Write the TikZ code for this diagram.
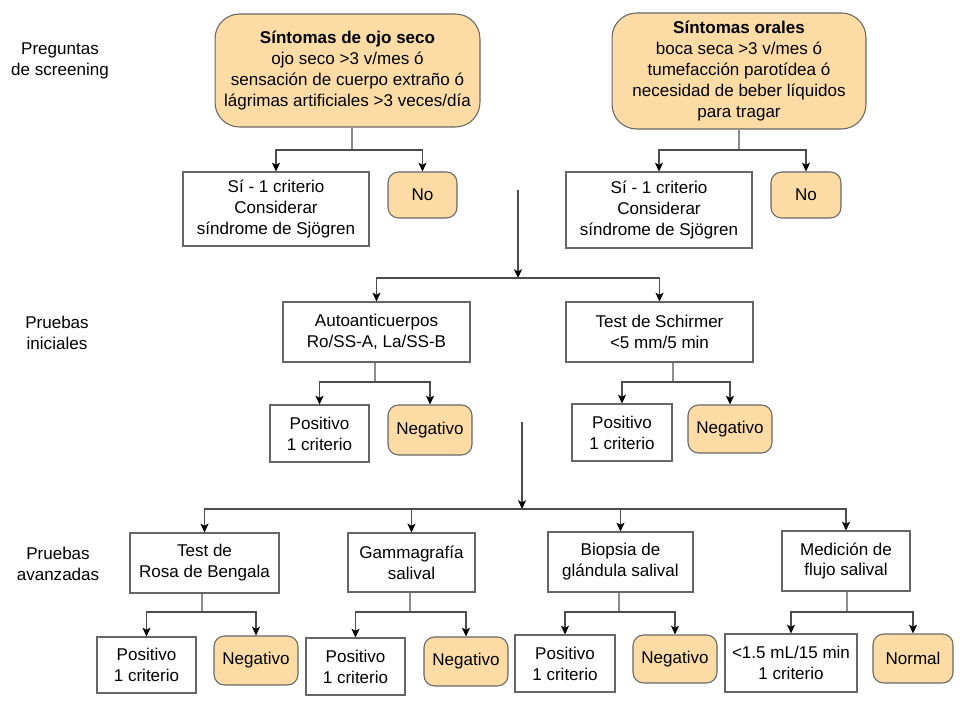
\documentclass[tikz,border=0pt]{standalone}
\usepackage{fontspec}
\setmainfont{Liberation Sans}
\usepackage{tikz}
\usetikzlibrary{arrows.meta}
\definecolor{melon}{HTML}{FCDCA4}

\begin{document}
\begin{tikzpicture}[>={Stealth[length=5pt,width=4.6pt,inset=1.2pt,black]},x=0.02cm,y=-0.02cm,line width=0.6pt]
\tikzstyle{every node}=[align=center,inner sep=1pt]
\tikzstyle{caja}=[draw=black!60,fill=white]
\tikzstyle{naranja}=[draw=black!60,fill=melon,rounded corners=6pt]
\tikzstyle{linea}=[draw=black!70]
\tikzstyle{tallo}=[draw=black!45]
\tikzset{font=\fontsize{9.7pt}{11.9pt}\selectfont}

\useasboundingbox (0,0) rectangle (960,709);

        % etiquetas de la izquierda
        \node (et1) at (60,61)  {Preguntas\\de screening};
        \node (et2) at (57,333) {Pruebas\\iniciales};
        \node (et3) at (58,564) {Pruebas\\avanzadas};

        % preguntas de screening
        \node[naranja,rounded corners=14pt,minimum width=5.3cm,minimum height=2.26cm]   (ojo)  at (347.5,70.5) {\textbf{Síntomas de ojo seco}\\ojo seco >3 v/mes ó\\sensación de cuerpo extraño ó\\lágrimas artificiales >3 veces/día};
        \node[naranja,rounded corners=14pt,minimum width=5.08cm,minimum height=2.32cm]  (oral) at (739,71)     {\textbf{Síntomas orales}\\boca seca >3 v/mes ó\\tumefacción parotídea ó\\necesidad de beber líquidos\\para tragar};

        \node[caja,minimum width=3.72cm,minimum height=1.48cm]     (si1) at (276,209)   {Sí - 1 criterio\\Considerar\\síndrome de Sjögren};
        \node[naranja,minimum width=1.38cm,minimum height=0.92cm]  (no1) at (422.5,195) {No};
        \node[caja,minimum width=3.72cm,minimum height=1.52cm]     (si2) at (659,210)   {Sí - 1 criterio\\Considerar\\síndrome de Sjögren};
        \node[naranja,minimum width=1.4cm,minimum height=0.92cm]   (no2) at (806,195)   {No};

        % pruebas iniciales
        \node[caja,minimum width=3.74cm,minimum height=1.2cm]      (auto)  at (376.5,332) {Autoanticuerpos\\Ro/SS-A, La/SS-B};
        \node[caja,minimum width=3.74cm,minimum height=1.2cm]      (schir) at (659.5,332) {Test de Schirmer\\<5 mm/5 min};

        \node[caja,minimum width=1.98cm,minimum height=1.14cm]     (pos1) at (319.5,433.5) {Positivo\\1 criterio};
        \node[naranja,minimum width=1.68cm,minimum height=1.0cm]   (neg1) at (430,430)     {Negativo};
        \node[caja,minimum width=2.0cm,minimum height=1.14cm]      (pos2) at (622,432.5)   {Positivo\\1 criterio};
        \node[naranja,minimum width=1.68cm,minimum height=0.96cm]  (neg2) at (730,429)     {Negativo};

        % pruebas avanzadas
        \node[caja,minimum width=2.98cm,minimum height=1.2cm]      (rosa)  at (204.5,563) {Test de\\Rosa de Bengala};
        \node[caja,minimum width=2.54cm,minimum height=1.18cm]     (gamma) at (411.5,562.5) {Gammagrafía\\salival};
        \node[caja,minimum width=2.9cm,minimum height=1.2cm]       (biop)  at (620.5,562) {Biopsia de\\glándula salival};
        \node[caja,minimum width=2.56cm,minimum height=1.2cm]      (flujo) at (846,561)   {Medición de\\flujo salival};

        \node[caja,minimum width=1.98cm,minimum height=1.12cm]     (pos3)   at (146.5,665)   {Positivo\\1 criterio};
        \node[naranja,minimum width=1.68cm,minimum height=0.98cm]  (neg3)   at (256,660.5)   {Negativo};
        \node[caja,minimum width=1.98cm,minimum height=1.14cm]     (pos4)   at (355.5,666.5) {Positivo\\1 criterio};
        \node[naranja,minimum width=1.68cm,minimum height=0.98cm]  (neg4)   at (466,661.5)   {Negativo};
        \node[caja,minimum width=2.0cm,minimum height=1.14cm]      (pos5)   at (565,663.5)   {Positivo\\1 criterio};
        \node[naranja,minimum width=1.68cm,minimum height=0.96cm]  (neg5)   at (675,659)     {Negativo};
        \node[caja,minimum width=2.64cm,minimum height=1.16cm]     (flow)   at (791,663)     {<1.5 mL/15 min\\1 criterio};
        \node[naranja,minimum width=1.6cm,minimum height=0.98cm]   (normal) at (913,658.5)   {Normal};

        % puntos de ramificacion
        \coordinate (j1) at (352,150);
        \coordinate (j2) at (739,150);
        \coordinate (j3) at (375,382);
        \coordinate (j4) at (673,382);
        \coordinate (j5) at (202,612);
        \coordinate (j6) at (410,612);
        \coordinate (j7) at (619,612);
        \coordinate (j8) at (847,612);
        \coordinate (m1) at (518,190);
        \coordinate (b1) at (518,278);
        \coordinate (m2) at (522,422);
        \coordinate (b2) at (522,509);

        \draw[tallo] (j1 |- ojo.south)   -- (j1);
        \draw[tallo] (j2 |- oral.south)  -- (j2);
        \draw[tallo] (j3 |- auto.south)  -- (j3);
        \draw[tallo] (j4 |- schir.south) -- (j4);
        \draw[tallo] (j5 |- rosa.south)  -- (j5);
        \draw[tallo] (j6 |- gamma.south) -- (j6);
        \draw[tallo] (j7 |- biop.south)  -- (j7);
        \draw[tallo] (j8 |- flujo.south) -- (j8);

        \draw[linea,->] (j1) -| (si1);
        \draw[linea,->] (j1) -| (no1);
        \draw[linea,->] (j2) -| (si2);
        \draw[linea,->] (j2) -| (no2);
        \draw[linea,->] (j3) -| (pos1);
        \draw[linea,->] (j3) -| (neg1);
        \draw[linea,->] (j4) -| (pos2);
        \draw[linea,->] (j4) -| (neg2);
        \draw[linea,->] (j5) -| (pos3);
        \draw[linea,->] (j5) -| (neg3);
        \draw[linea,->] (j6) -| (pos4);
        \draw[linea,->] (j6) -| (neg4);
        \draw[linea,->] (j7) -| (pos5);
        \draw[linea,->] (j7) -| (neg5);
        \draw[linea,->] (j8) -| (flow);
        \draw[linea,->] (j8) -| (normal);

        \draw[linea,->] (m1) -- (b1);
        \draw[linea,->] (b1) -| (auto);
        \draw[linea,->] (b1) -| (schir);

        \draw[linea,->] (m2) -- (b2);
        \draw[linea,->] (b2) -| (rosa);
        \draw[linea,->] (b2) -| (gamma);
        \draw[linea,->] (b2) -| (biop);
        \draw[linea,->] (b2) -| (flujo);

\end{tikzpicture}
\end{document}
